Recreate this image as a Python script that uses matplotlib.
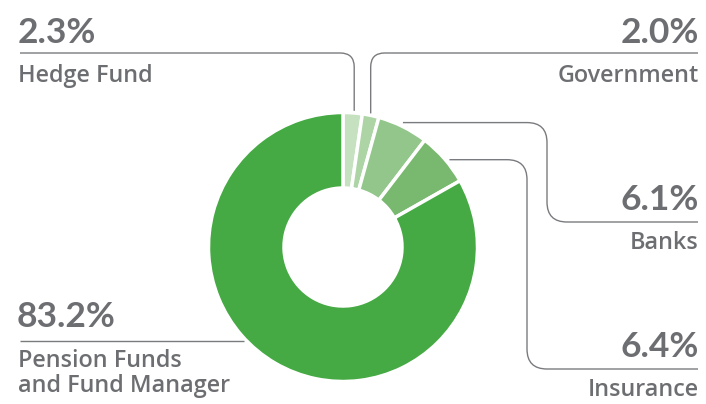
import matplotlib.pyplot as plt
from matplotlib.path import Path
from matplotlib.patches import PathPatch
import numpy as np

categories = ["Hedge Fund", "Government", "Banks", "Insurance", "Pension Funds\nand Fund Manager"]
values = [2.3, 2.0, 6.1, 6.4, 83.2]
pct_labels = ["2.3%", "2.0%", "6.1%", "6.4%", "83.2%"]
colors = ["#c6e1c0", "#acd4a5", "#92c68a", "#79b86f", "#45aa43"]

W, H = 706, 404
TXT = "#6d6e71"
LINE = "#7a7b7e"
FONT = ["Lato", "DejaVu Sans"]
FONT2 = ["Open Sans", "DejaVu Sans"]

fig = plt.figure(figsize=(W / 100, H / 100), dpi=100)
ax = fig.add_axes([0, 0, 1, 1])

def Y(y):
    return H - y

cx, cy = 343, Y(247)
R, r_in = 134.5, 59
wedges, _ = ax.pie(values, colors=colors, startangle=90, counterclock=False,
                   radius=R, center=(cx, cy), frame=True,
                   wedgeprops=dict(width=R - r_in, edgecolor="white", linewidth=2.5))
ax.set_xlim(0, W)
ax.set_ylim(0, H)
ax.set_aspect("equal")
ax.axis("off")

# mid-angle anchor points of wedges
anchors = []
for w in wedges:
    a = np.deg2rad((w.theta1 + w.theta2) / 2)
    anchors.append((cx + R * np.cos(a), cy + R * np.sin(a)))


def rounded(points, rad):
    verts = [points[0]]
    codes = [Path.MOVETO]
    for i in range(1, len(points) - 1):
        p0, p1, p2 = map(np.array, (points[i - 1], points[i], points[i + 1]))
        d0 = (p0 - p1) / np.linalg.norm(p0 - p1)
        d1 = (p2 - p1) / np.linalg.norm(p2 - p1)
        a = p1 + d0 * rad
        b = p1 + d1 * rad
        verts += [tuple(a), tuple(p1), tuple(b)]
        codes += [Path.LINETO, Path.CURVE3, Path.CURVE3]
    verts.append(points[-1])
    codes.append(Path.LINETO)
    ax.add_patch(PathPatch(Path(verts, codes), fill=False, edgecolor=LINE, lw=1.0,
                           capstyle="butt", joinstyle="round"))


# Hedge Fund
hx, hy = anchors[0]
rounded([(hx + 1.5, hy + 2), (hx + 1.5, Y(53)), (20, Y(53))], 14)
# Government
gx, gy = anchors[1]
rounded([(gx, gy + 2), (gx, Y(53)), (698, Y(53))], 14)
# Banks
bx, by = anchors[2]
rounded([(bx, by + 4), (547, by + 4), (547, Y(222)), (698, Y(222))], 20)
# Insurance
ix, iy = anchors[3]
rounded([(ix + 5, iy - 1), (527, iy - 1), (527, Y(369)), (698, Y(369))], 20)
# Pension
ax.plot([20, 244], [Y(341), Y(341)], color=LINE, lw=1.0, solid_capstyle="butt")

PCT = dict(fontsize=25.5, fontweight="bold", color=TXT, family=FONT, va="baseline")
LAB = dict(fontsize=16.8, fontweight="semibold", color=TXT, family=FONT2, va="baseline")

ax.text(18, Y(43), pct_labels[0], ha="left", **PCT)
ax.text(18, Y(82), categories[0], ha="left", **LAB)
ax.text(699, Y(43), pct_labels[1], ha="right", **PCT)
ax.text(699, Y(82), categories[1], ha="right", **LAB)
ax.text(699, Y(210), pct_labels[2], ha="right", **PCT)
ax.text(699, Y(249), categories[2], ha="right", **LAB)
ax.text(699, Y(357), pct_labels[3], ha="right", **PCT)
ax.text(699, Y(396), categories[3], ha="right", **LAB)
ax.text(17, Y(327), pct_labels[4], ha="left", **PCT)
l1, l2 = categories[4].split("\n")
ax.text(18, Y(367), l1, ha="left", **LAB)
ax.text(18, Y(392), l2, ha="left", **LAB)

fig.savefig("out.png", dpi=100)
